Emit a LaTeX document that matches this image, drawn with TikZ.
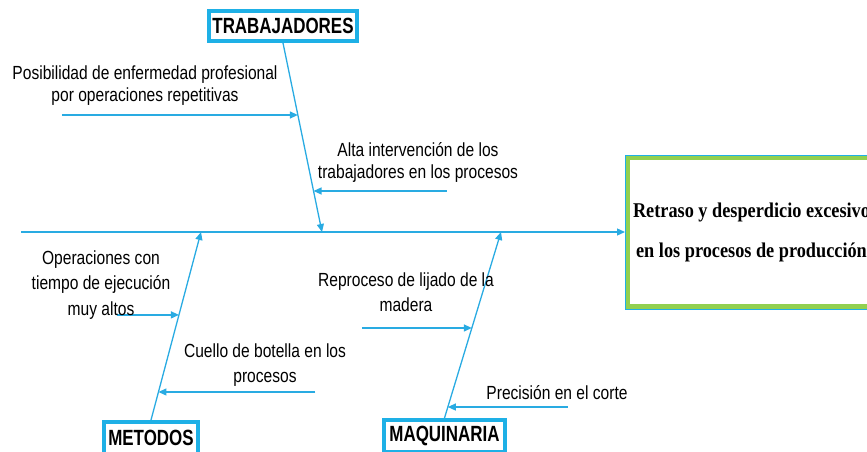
\documentclass[tikz,border=0pt]{standalone}
\usepackage{fontspec}
\usetikzlibrary{arrows.meta,calc}

\newfontfamily\causafont[FakeStretch=0.82]{Liberation Sans}
\newfontfamily\etiqfont[FakeStretch=0.77]{Liberation Sans}
\newfontfamily\efectofont[FakeStretch=0.87]{Liberation Serif}

\definecolor{azul}{RGB}{41,171,226}
\definecolor{marco}{RGB}{30,176,230}
\definecolor{verde}{RGB}{146,208,80}

\tikzset{
    flecha/.style={azul, line width=1.3pt, -{Triangle[length=8pt,width=7pt]}},
    caja/.style={draw=marco, line width=4pt, fill=white, inner sep=0pt,
        font=\etiqfont\bfseries\fontsize{22}{24}\selectfont},
    efecto/.style={draw=verde, line width=5pt, fill=white, align=center,
        minimum width=248pt, minimum height=149pt,
        font=\efectofont\bfseries\fontsize{21}{40}\selectfont},
    causa/.style={align=center, inner sep=0pt, font=\causafont\fontsize{19}{22}\selectfont},
    causa ancha/.style={causa, font=\causafont\fontsize{19}{25.5}\selectfont},
}

\begin{document}
\begin{tikzpicture}[x=1pt,y=-1pt]
        \clip (0,0) rectangle (867,452);

        \node[caja, minimum width=148pt, minimum height=30pt] (trab) at (283,26) {TRABAJADORES};
        \node[caja, minimum width=94pt, minimum height=32pt] (met) at (151,438) {METODOS};
        \node[caja, minimum width=121pt, minimum height=32pt] (maq) at (444.5,436) {MAQUINARIA};

        \node[efecto] (efe) at (751.5,232) {Retraso y desperdicio excesivo\\en los procesos de producción};
        \draw[marco, line width=1pt] (efe.north west) rectangle (efe.south east);

        \coordinate (cola) at (21,232);
        \draw[flecha] (cola) -- (efe.west);

        \coordinate (st) at (322,232);
        \coordinate (sm) at (201,232);
        \coordinate (sq) at (501,232);
        \draw[flecha] (trab.south) -- (st);
        \draw[flecha] (met.north) -- (sm);
        \draw[flecha] (maq.north) -- (sq);

        \foreach \hueso/\fin/\pos/\dx/\nom in {trab.south/st/0.381/-236/t1, trab.south/st/0.783/133/t2,
                met.north/sm/0.559/-62/m1, met.north/sm/0.149/157/m2,
                maq.north/sq/0.484/-110/q1, maq.north/sq/0.059/120/q2} {
            \coordinate (\nom) at ($(\hueso)!\pos!(\fin)$);
            \coordinate (\nom c) at ($(\nom)+(\dx,0)$);
            \draw[flecha] (\nom c) -- (\nom);
        }

        \node[causa] (tc1) at (145,86) {Posibilidad de enfermedad profesional\\por operaciones repetitivas};
        \node[causa] (tc2) at (418,162) {Alta intervención de los\\trabajadores en los procesos};
        \node[causa ancha] (tm1) at (101,285) {Operaciones con\\tiempo de ejecución\\muy altos};
        \node[causa ancha] (tm2) at (265,365) {Cuello de botella en los\\procesos};
        \node[causa ancha] (tq1) at (406,292) {Reproceso de lijado de la\\madera};
        \node[causa] (tq2) at (557,393) {Precisión en el corte};
\end{tikzpicture}
\end{document}
